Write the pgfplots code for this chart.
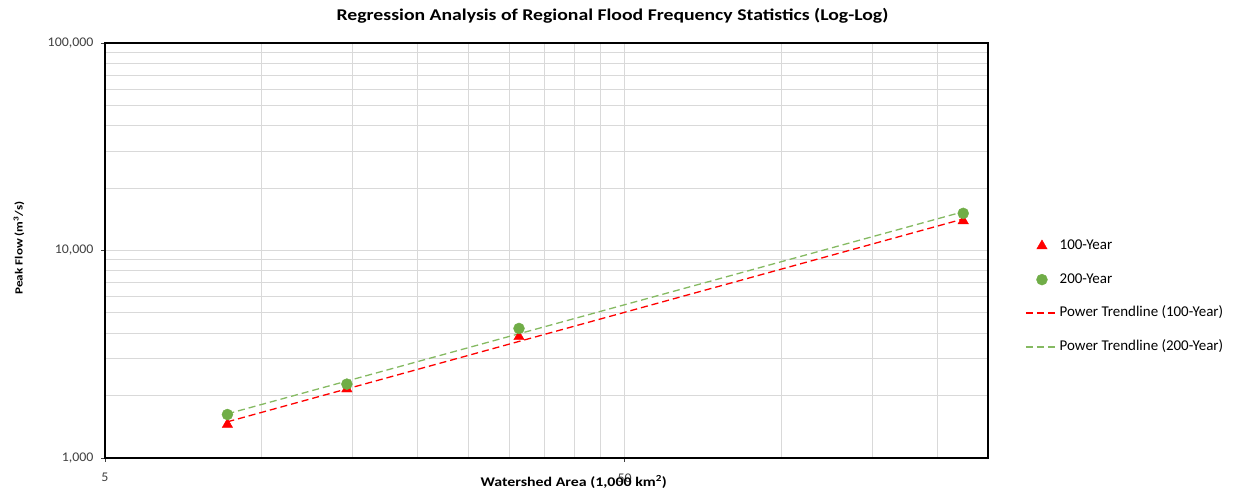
\documentclass[border=0pt]{standalone}
\usepackage{pgfplots}
\pgfplotsset{compat=1.18}
\usepackage{fontspec}
\setmainfont{Carlito}
\newfontfamily\widefont[FakeStretch=1.2]{Carlito}
\newfontfamily\tickfont[FakeStretch=1.05]{Carlito}
\definecolor{grn}{HTML}{70AD47}
\definecolor{grnl}{HTML}{85BA62}
\definecolor{gridc}{HTML}{D9D9D9}
\definecolor{tickc}{HTML}{404040}
\definecolor{trred}{HTML}{FF0000}
\pgfplotsset{
  triLeg/.style={legend image code/.code={\fill[red] plot[mark=triangle*, mark size=6bp, only marks] coordinates {(16bp,0bp)};}},
  cirLeg/.style={legend image code/.code={\fill[grn] (16bp,0bp) circle[radius=5.5bp];}},
  redLeg/.style={legend image code/.code={\draw[trred, line width=1.5bp, dash pattern=on 7bp off 4bp] (0bp,0.5bp) -- (32bp,0.5bp);}},
  grnLeg/.style={legend image code/.code={\draw[grnl, line width=1.3bp, dash pattern=on 7bp off 4bp] (0bp,0bp) -- (32bp,0bp);}},
}
\begin{document}
\begin{tikzpicture}[x=1bp,y=1bp]
\useasboundingbox (-105,-39) rectangle (1134,458);
\begin{axis}[
  at={(0,0)}, anchor=south west,
  scale only axis, width=883bp, height=415bp,
  xmode=log, ymode=log,
  xmin=5, xmax=250, ymin=1000, ymax=100000,
  xtick={5,50}, xticklabels={5,50},
  minor xtick={10,15,20,25,30,35,40,45,100,150,200,250},
  ytick={1000,10000,100000}, yticklabels={{1,000},{10,000},{100,000}},
  minor ytick={2000,3000,4000,5000,6000,7000,8000,9000,20000,30000,40000,50000,60000,70000,80000,90000},
  grid=both,
  major grid style={gridc, line width=1bp},
  minor grid style={gridc, line width=1bp},
  axis line style={black, line width=1.5bp},
  tick align=outside, tick pos=left,
  major tick length=4bp, minor tick length=0bp,
  major tick style={tickc, line width=0.8bp},
  ticklabel style={font=\tickfont\fontsize{13.3}{16}\selectfont, text=tickc},
  xticklabel style={yshift=-8bp},
  yticklabel style={xshift=-4bp},
  title={Regression Analysis of Regional Flood Frequency Statistics (Log-Log)},
  title style={at={(axis description cs:0.5747,1)}, anchor=base, yshift=16.3bp, inner sep=0pt, font=\widefont\bfseries\fontsize{16.5}{19}\selectfont},
  xlabel={Watershed Area (1,000 km\textsuperscript{2})},
  xlabel style={at={(axis description cs:0.5308,0)}, anchor=base, yshift=-28.7bp, inner sep=0pt, font=\widefont\bfseries\fontsize{13.3}{16}\selectfont},
  ylabel={Peak Flow (m\textsuperscript{3}/s)},
  ylabel style={at={(axis description cs:-0.0974,0.506)}, anchor=center, inner sep=0pt, font=\widefont\bfseries\fontsize{11}{13}\selectfont},
  legend style={at={(axis description cs:1,0.394)}, anchor=west, xshift=37bp, yshift=-2bp, draw=none, fill=none, inner sep=0pt,
    font=\fontsize{15}{17}\selectfont, row sep=18.7bp,
    nodes={text height=10bp, text depth=3bp, inner sep=1bp, anchor=west}},
  legend cell align=left,
]
\addplot[only marks, mark=triangle*, mark size=6bp, color=red, triLeg]
  coordinates {(8.6,1450) (14.6,2150) (31.3,3840) (224,13900)};
\addlegendentry{100-Year}
\addplot[only marks, mark=*, mark size=5.5bp, color=grn, cirLeg]
  coordinates {(8.6,1620) (14.6,2270) (31.3,4210) (224,15100)};
\addlegendentry{200-Year}
\addplot[color=red, no marks, line width=1.3bp, dash pattern=on 7bp off 4bp, redLeg]
  coordinates {(8.6,1494) (224,14186)};
\addlegendentry{Power Trendline (100-Year)}
\addplot[color=grnl, no marks, line width=1.3bp, dash pattern=on 7bp off 4bp, grnLeg]
  coordinates {(8.6,1632) (224,15373)};
\addlegendentry{Power Trendline (200-Year)}
\end{axis}
\end{tikzpicture}
\end{document}
